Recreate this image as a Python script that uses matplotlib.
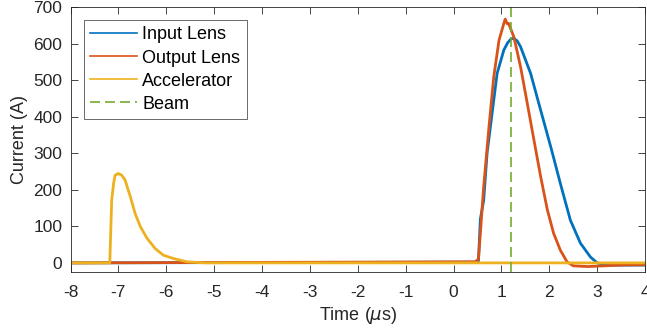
import matplotlib.pyplot as plt
import numpy as np

plt.rcParams['font.family'] = ['Liberation Sans', 'DejaVu Sans']

# traces (time in us, current in A)
t_input = [-8, 0.45, 0.52, 0.56, 0.63, 0.70, 0.77, 0.91, 1.05, 1.13, 1.21, 1.27, 1.33, 1.40,
           1.61, 1.82, 2.03, 2.23, 2.44, 2.65, 2.86, 3.0, 3.2, 4.0]
i_input = [0, 2, 5, 120, 172, 300, 373, 519, 583, 603, 615, 614, 608, 592,
           519, 418, 318, 218, 117, 54, 16, 0, -6, -6]

t_output = [-8, 0.45, 0.52, 0.56, 0.63, 0.74, 0.84, 0.95, 1.05, 1.08, 1.12, 1.15, 1.26,
            1.40, 1.54, 1.68, 1.82, 1.96, 2.09, 2.23, 2.37, 2.5, 2.8, 3.5, 4.0]
i_output = [0, 3, 10, 81, 210, 373, 510, 610, 656, 668, 655, 656, 619,
            537, 437, 336, 236, 145, 81, 35, 3, -8, -10, -6, -5]

t_accel = [-8, -7.18, -7.14, -7.10, -7.07, -7.0, -6.93, -6.86, -6.75, -6.65,
           -6.54, -6.40, -6.23, -6.06, -5.85, -5.57, -5.2, 4.0]
i_accel = [0, 0, 172, 218, 240, 245, 240, 227, 181, 135,
           99, 67, 39, 21, 12, 3, 0, 0]

t_beam = 1.2

labels = ['Input Lens', 'Output Lens', 'Accelerator', 'Beam']
colors = ['#0072BD', '#D95319', '#EDB120', '#77AC30']
xticks = np.arange(-8, 5, 1)
yticks = np.arange(0, 800, 100)

fig = plt.figure(figsize=(6.47, 3.35), dpi=100)
ax = fig.add_axes([0.109, 0.188, 0.888, 0.790])

ax.plot(t_input, i_input, color=colors[0], lw=2, label=labels[0])
ax.plot(t_output, i_output, color=colors[1], lw=2, label=labels[1])
ax.plot(t_accel, i_accel, color=colors[2], lw=2, label=labels[2])
ax.axvline(t_beam, color=colors[3], lw=1.2, ls=(0, (6, 3)), label=labels[3])

ax.set_xlim(-8, 4)
ax.set_ylim(-25, 700)
ax.set_xticks(xticks)
ax.set_yticks(yticks)
ax.set_xticklabels([str(v) for v in xticks])
ax.tick_params(direction='in', top=True, right=True, length=5, width=0.6,
               labelsize=12.5, colors='#262626')
ax.tick_params(axis='x', pad=9)
ax.tick_params(axis='y', pad=6)
for s in ax.spines.values():
    s.set_color('#262626')
    s.set_linewidth(0.6)

ax.set_xlabel('Time ($\\mu$s)', fontsize=13, color='#262626', labelpad=4)
ax.set_ylabel('Current (A)', fontsize=13, color='#262626', labelpad=4)

leg = ax.legend(loc='upper left', bbox_to_anchor=(0.0226, 0.952), fontsize=13,
                frameon=True, fancybox=False, edgecolor='#262626',
                handlelength=2.6, handletextpad=0.3, labelspacing=0.34,
                borderpad=0.35, borderaxespad=0)
leg.get_frame().set_linewidth(0.6)
for h in leg.get_lines():
    h.set_linewidth(1.2)

fig.savefig('out.png', dpi=100)
